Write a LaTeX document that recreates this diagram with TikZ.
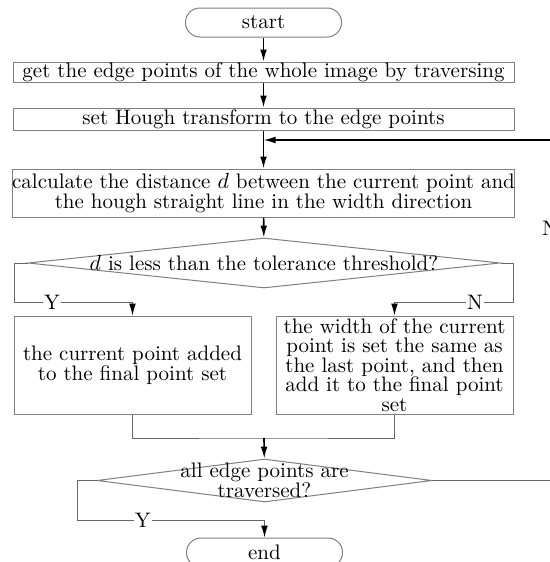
\documentclass[tikz,border=0pt]{standalone}
\usepackage{amsmath}
\usetikzlibrary{arrows.meta, shapes.geometric}
\newcommand\fs{\fontsize{10.5}{9.8}\selectfont}
\tikzset{>={Latex[length = 6pt, width = 3.4pt]}}
\tikzset{
	box/.style = {draw = gray, line width = 0.5pt, inner sep = 0pt, align = center, font = \fs},
	term/.style = {box, rounded corners = 7.2pt, minimum width = 78pt, minimum height = 14.5pt},
	decision/.style = {diamond, draw = gray, line width = 0.5pt, inner sep = 0pt},
	flow/.style = {->, line width = 0.8pt},
	branch/.style = {draw = gray!80!black, line width = 0.5pt},
	tip/.style = {-{Latex[length = 6pt, width = 3.4pt, color = black]}},
	lbl/.style = {fill = white, inner sep = 0.6pt, font = \fs}
}

\begin{document}
\begin{tikzpicture}[x = 0.5pt, y = -0.5pt]
	\clip (0, 0) rectangle (550, 562);
	\fill[white] (0, 0) rectangle (550, 562);

	\node[term] (start) at (263.5, 22.5) {start};
	\node[box, minimum width = 250.5pt, minimum height = 10pt] (edge) at (263.5, 72) {get the edge points of the whole image by traversing};
	\node[box, minimum width = 250.5pt, minimum height = 11pt] (hough) at (263.5, 119) {set Hough transform to the edge points};
	\node[box, minimum width = 250.5pt, minimum height = 24pt] (dist) at (263.5, 193) {calculate the distance $d$ between the current point and\\the hough straight line in the width direction};
	\node[decision, minimum width = 236pt, minimum height = 25pt, label = {[font = \fs]center:$d$ is less than the tolerance threshold?}] (less) at (264, 263) {};
	\node[box, minimum width = 118.5pt, minimum height = 49pt] (keep) at (132.5, 365) {the current point added\\to the final point set};
	\node[box, minimum width = 118.5pt, minimum height = 49pt] (fix) at (394.5, 365) {the width of the current\\point is set the same as\\the last point, and then\\add it to the final point\\set};
	\node[decision, minimum width = 167.5pt, minimum height = 21.5pt, label = {[font = \fs, align = center]center:all edge points are\\traversed?}] (done) at (264.5, 480.5) {};
	\node[term] (end) at (264.5, 552.5) {end};

	\coordinate (yturn) at (14, 302);
	\coordinate (nturn) at (513, 302);
	\coordinate (merge) at (264, 438);
	\coordinate (yend) at (77, 520);
	\coordinate (back) at (550, 140);

	\draw[flow] (start) -- (edge);
	\draw[flow] (edge) -- (hough);
	\draw[flow] (hough) -- (dist);
	\draw[flow] (dist) -- (less);
	\draw[branch, tip] (less.west) -| (yturn) -- node[lbl, pos = 0.32] {Y} (yturn -| keep.north) -- (keep.north);
	\draw[branch, tip] (less.east) -| (nturn) -- node[lbl, pos = 0.32] {N} (nturn -| fix.north) -- (fix.north);
	\draw[branch] (keep.south) |- (merge) -| (fix.south);
	\draw[flow] (merge) -- (done);
	\draw[branch, tip] (done.west) -| (yend) -- node[lbl, pos = 0.35] {Y} (yend -| end.north) -- (end.north);
	\draw[branch] (done.east) -| node[lbl, pos = 0.87] {N} (back);
	\draw[flow] (back) -- (hough.south |- back);
\end{tikzpicture}
\end{document}
